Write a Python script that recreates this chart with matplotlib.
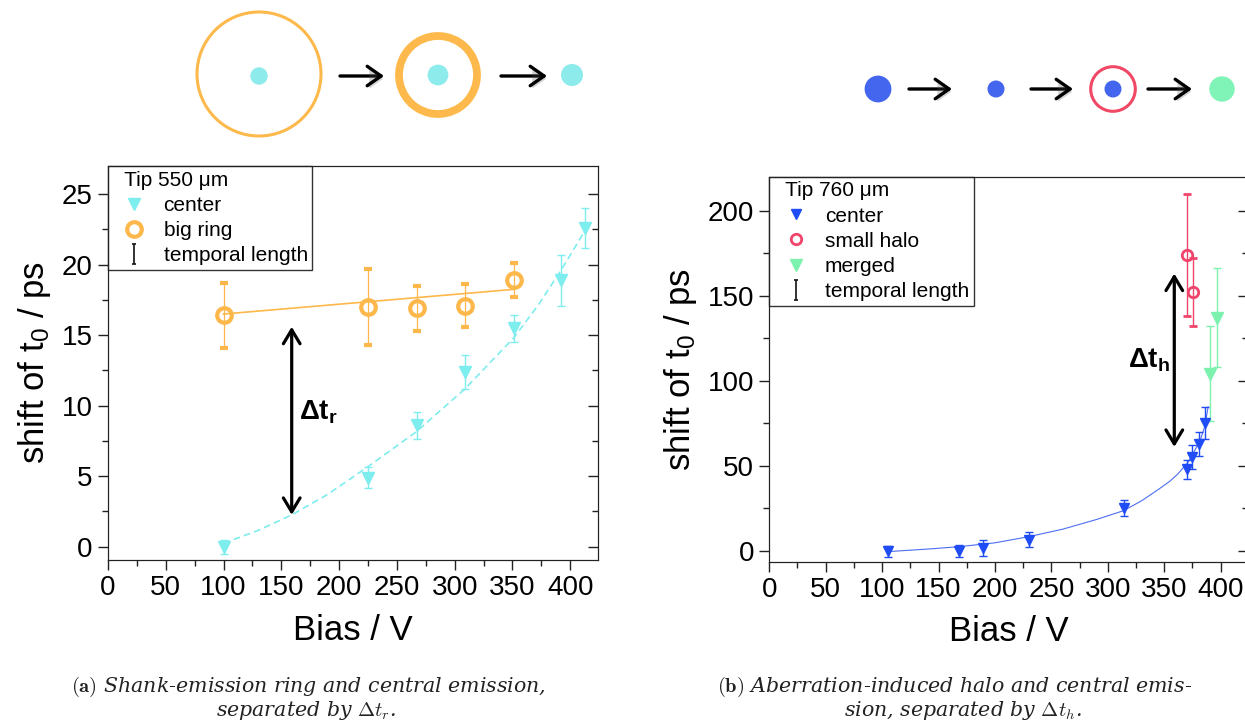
import numpy as np
import matplotlib.pyplot as plt
import matplotlib.patheffects as pe
from matplotlib.lines import Line2D
from matplotlib.path import Path
from matplotlib.patches import Circle, FancyArrowPatch
from matplotlib.ticker import MultipleLocator

# ============================================================
# Data
# ============================================================

# (a) tip 550 um
bias_center_a = [100, 225, 267, 309, 351, 392, 413]
shift_center_a = [0.0, 4.9, 8.6, 12.4, 15.5, 18.9, 22.6]
err_center_a = [0.5, 0.75, 0.95, 1.2, 0.95, 1.8, 1.4]

bias_ring_a = [100, 225, 267, 309, 351]
shift_ring_a = [16.4, 17.0, 16.9, 17.1, 18.9]
err_ring_a = [2.3, 2.7, 1.6, 1.5, 1.2]

fit_ring_x = [100, 351]
fit_ring_y = [16.5, 18.25]

fit_center_a_x = [100, 130, 159, 190, 225, 267, 309, 351, 372, 392, 413]
fit_center_a_y = [0.24, 1.15, 2.25, 3.7, 5.67, 8.16, 11.2, 14.8, 17.1, 19.6, 22.45]

# (b) tip 760 um
bias_center_b = [105, 168, 189, 230, 314, 370.5, 375, 381, 386]
shift_center_b = [-0.5, 0.0, 1.4, 6.3, 24.9, 48, 55, 62.8, 75]
err_center_b = [3.1, 3.6, 4.7, 4.4, 4.6, 5.6, 7.2, 6.9, 9.6]

bias_halo = [370.5, 376]
shift_halo = [174, 152]
err_halo = [36, 20]

bias_merged = [391, 396.5]
shift_merged = [104, 137]
err_merged = [28, 29]

fit_center_b_x = [105, 140, 168, 200, 230, 260, 290, 314, 330, 346, 355, 362, 370.5, 376, 382, 386, 389]
fit_center_b_y = [-0.6, 0.9, 2.3, 4.6, 8.2, 12.6, 18.3, 23.5, 29.3, 36.5, 40.8, 45.0, 51.4, 57.5, 65, 73, 84.6]

CYAN = '#7EEDEE'
ORANGE = '#FDB74A'
BLUE = '#1F4CF4'
RED = '#F0446A'
GREEN = '#7CF2AE'

# ============================================================
# Style
# ============================================================

plt.rcParams['font.family'] = ['Liberation Sans', 'DejaVu Sans']
plt.rcParams['mathtext.fontset'] = 'custom'
plt.rcParams['mathtext.rm'] = 'Liberation Sans'
plt.rcParams['mathtext.bf'] = 'Liberation Sans:bold'
plt.rcParams['mathtext.it'] = 'Liberation Sans:italic'
plt.rcParams['axes.edgecolor'] = '#222222'
plt.rcParams['xtick.color'] = '#222222'
plt.rcParams['ytick.color'] = '#222222'

fig = plt.figure(figsize=(12.45, 7.2), dpi=100)

ax_a = fig.add_axes([0.0867, 0.2222, 0.3936, 0.5472])
ax_b = fig.add_axes([0.6179, 0.2199, 0.3842, 0.5347])

# I-shaped marker for "temporal length"
ibar = Path(
    [(-0.25, 1), (0.25, 1), (0, 1), (0, -1), (-0.25, -1), (0.25, -1)],
    [Path.MOVETO, Path.LINETO, Path.MOVETO, Path.LINETO, Path.MOVETO, Path.LINETO],
)


def style_axes(ax, ylim, ymajor, yminor):
    ax.set_xlim(0, 424)
    ax.set_ylim(*ylim)
    ax.xaxis.set_major_locator(MultipleLocator(50))
    ax.xaxis.set_minor_locator(MultipleLocator(25))
    ax.yaxis.set_major_locator(MultipleLocator(ymajor))
    ax.yaxis.set_minor_locator(MultipleLocator(yminor))
    ax.tick_params(which='both', direction='out', labelsize=20, width=1, pad=4,
                   labelcolor='black')
    ax.tick_params(which='major', length=7)
    ax.tick_params(which='minor', length=4)
    ax.set_xlabel('Bias / V', fontsize=25, labelpad=9)
    ax.set_ylabel('shift of t$_0$ / ps', fontsize=25, labelpad=6)

    tw = ax.twinx()
    tw.set_ylim(*ylim)
    tw.yaxis.set_major_locator(MultipleLocator(ymajor))
    tw.yaxis.set_minor_locator(MultipleLocator(yminor))
    tw.tick_params(which='both', direction='in', labelright=False, width=1)
    tw.tick_params(which='major', length=7)
    tw.tick_params(which='minor', length=4)
    return tw


style_axes(ax_a, (-0.95, 27.0), 5, 2.5)
style_axes(ax_b, (-6.5, 220), 50, 25)

leg_kw = dict(loc='upper left', bbox_to_anchor=(0, 1), borderaxespad=0,
              fancybox=False, edgecolor='#333333', framealpha=1,
              fontsize=15, title_fontsize=15, alignment='left',
              handlelength=2.1, handletextpad=0.35, borderpad=0.22,
              labelspacing=0.3)

# ============================================================
# (a)
# ============================================================

ax_a.plot(fit_ring_x, fit_ring_y, color=ORANGE, lw=1.2, zorder=2)
ax_a.plot(fit_center_a_x, fit_center_a_y, color=CYAN, lw=1.2, ls=(0, (4, 2.5)), zorder=2)

ax_a.errorbar(bias_center_a, shift_center_a, yerr=err_center_a, fmt='v',
              color=CYAN, ms=8, capsize=3, elinewidth=1.0, capthick=1.0, zorder=3)
ax_a.errorbar(bias_ring_a, shift_ring_a, yerr=err_ring_a, fmt='o',
              color=ORANGE, mfc='none', mew=3, ms=10.5, capsize=3,
              elinewidth=0.9, capthick=0.9, zorder=3)

ax_a.annotate('', xy=(159, 2.25), xytext=(159, 15.6),
              arrowprops=dict(arrowstyle='<->,head_length=0.5,head_width=0.3',
                              mutation_scale=20, lw=2.3, color='black',
                              shrinkA=0, shrinkB=0))
ax_a.text(165, 9.5, r'$\mathbf{\Delta t_r}$', fontsize=20, ha='left', va='center')

h_center_a = Line2D([], [], ls='none', marker='v', color=CYAN, ms=8)
h_ring_a = Line2D([], [], ls='none', marker='o', mfc='none', mec=ORANGE, mew=3, ms=10.5)
h_err = Line2D([], [], ls='none', marker=ibar, mfc='none', mec='#222222', mew=1.3, ms=14)

leg_a = ax_a.legend([h_center_a, h_ring_a, h_err],
                    ['center', 'big ring', 'temporal length'],
                    title='  Tip 550 μm', **leg_kw)
leg_a.get_frame().set_linewidth(1.0)

# ============================================================
# (b)
# ============================================================

ax_b.plot(fit_center_b_x, fit_center_b_y, color='#4D6FF2', lw=0.8, zorder=2)

ax_b.errorbar(bias_center_b, shift_center_b, yerr=err_center_b, fmt='v',
              color=BLUE, ms=7.5, capsize=3, elinewidth=1.0, capthick=1.0, zorder=3)
ax_b.errorbar(bias_halo, shift_halo, yerr=err_halo, fmt='o',
              color=RED, mfc='none', mew=2, ms=7.5, capsize=3,
              elinewidth=1.0, capthick=1.0, zorder=3)
ax_b.errorbar(bias_merged, shift_merged, yerr=err_merged, fmt='v',
              color=GREEN, ms=8, capsize=3, elinewidth=1.0, capthick=1.0, zorder=3)

ax_b.annotate('', xy=(359, 61), xytext=(359, 163),
              arrowprops=dict(arrowstyle='<->,head_length=0.5,head_width=0.3',
                              mutation_scale=20, lw=2.3, color='black',
                              shrinkA=0, shrinkB=0))
ax_b.text(318, 112, r'$\mathbf{\Delta t_h}$', fontsize=20, ha='left', va='center')

h_center_b = Line2D([], [], ls='none', marker='v', color=BLUE, ms=7.5)
h_halo = Line2D([], [], ls='none', marker='o', mfc='none', mec=RED, mew=2, ms=7.5)
h_merged = Line2D([], [], ls='none', marker='v', color=GREEN, ms=8)

leg_b = ax_b.legend([h_center_b, h_halo, h_merged, h_err],
                    ['center', 'small halo', 'merged', 'temporal length'],
                    title='  Tip 760 μm', **leg_kw)
leg_b.get_frame().set_linewidth(1.0)

# ============================================================
# Schematic sketches above the plots (pixel coordinates)
# ============================================================

ov = fig.add_axes([0, 0, 1, 1])
ov.set_xlim(0, 1245)
ov.set_ylim(720, 0)
ov.axis('off')

S_CYAN = '#8DEBEB'
S_ORANGE = '#FDB94B'
S_BLUE = '#4466EE'
S_RED = '#F04865'
S_GREEN = '#80F4B6'

sketch = [
    Circle((259, 74), 62, fill=False, ec=S_ORANGE, lw=2.2),
    Circle((259, 76), 8, color=S_CYAN),
    Circle((438, 75), 39, fill=False, ec=S_ORANGE, lw=5.6),
    Circle((438, 75), 9.7, color=S_CYAN),
    Circle((572, 75), 10.3, color=S_CYAN),
    Circle((878, 89), 12.7, color=S_BLUE),
    Circle((996, 89), 7.8, color=S_BLUE),
    Circle((1113, 89), 22.3, fill=False, ec=S_RED, lw=2.2),
    Circle((1113, 89), 7.8, color=S_BLUE),
    Circle((1222, 89), 12, color=S_GREEN),
]
for p in sketch:
    ov.add_patch(p)

arrows = [(340, 384, 76), (501, 547, 76), (909, 952, 89), (1031, 1073, 89), (1148, 1192, 89)]
for x0, x1, yy in arrows:
    ov.add_patch(FancyArrowPatch(
        (x0, yy), (x1, yy),
        arrowstyle='->,head_length=0.5,head_width=0.35',
        mutation_scale=20, lw=2.4, color='black', shrinkA=0, shrinkB=0,
        path_effects=[pe.SimplePatchShadow(offset=(1.5, -2), alpha=0.25), pe.Normal()]))

# ============================================================
# Captions
# ============================================================

cap_kw = dict(ha='center', va='center', fontsize=14.8, family='DejaVu Serif',
              style='italic', color='#222222', math_fontfamily='cm')

fig.text(0.248, 1 - 687 / 720,
         r'$\mathbf{(a)}$ Shank-emission ring and central emission,', **cap_kw)
fig.text(0.246, 1 - 710 / 720, r'separated by $\Delta t_r$.', **cap_kw)
fig.text(0.767, 1 - 687 / 720,
         r'$\mathbf{(b)}$ Aberration-induced halo and central emis-', **cap_kw)
fig.text(0.773, 1 - 710 / 720, r'sion, separated by $\Delta t_h$.', **cap_kw)

fig.savefig('out.png', dpi=100)
